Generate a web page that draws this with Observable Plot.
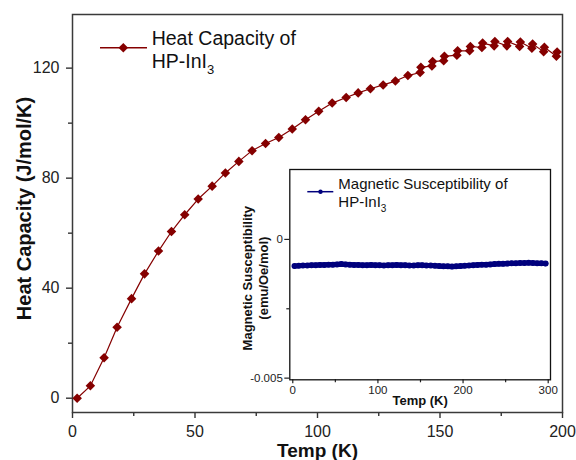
<!DOCTYPE html>
<html><head><meta charset="utf-8">
<script src="https://cdn.jsdelivr.net/npm/d3@7"></script>
<script src="https://cdn.jsdelivr.net/npm/@observablehq/plot@0.6"></script>
<style>
body{margin:0;background:#fff}
#wrap{position:relative;width:576px;height:460px;overflow:hidden}
</style></head><body><div id="wrap"></div>
<script>
// Heat capacity of HP-InI3 (main chart)
const hcT = [1.9, 7.3, 12.9, 18.2, 24.1, 29.4, 35.1, 40.4, 45.8, 51.3, 57.0, 62.4, 67.9, 73.3, 78.8, 84.2, 89.7, 95.1, 100.5, 106.0, 111.7, 116.6, 121.6, 126.8, 131.8, 136.9,
  141.9, 142.2, 146.7, 147.0, 151.5, 151.8, 156.9, 157.2, 162.1, 162.4, 167.1, 167.4, 172.1, 172.4, 177.3, 177.6, 182.5, 182.8, 187.5, 187.8, 192.3, 192.6, 197.5, 197.8];
const hcV = [0, 4.5, 14.7, 25.8, 36.2, 45.2, 53.5, 60.6, 66.7, 72.4, 77.1, 81.9, 86.1, 90.0, 92.6, 94.8, 97.9, 101.2, 104.3, 107.3, 109.3, 111.0, 112.5, 113.9, 115.3, 117.3,
  118.4, 120.3, 120.8, 122.4, 122.7, 124.3, 124.7, 126.3, 126.3, 127.9, 127.5, 129.1, 128.1, 129.7, 128.1, 129.7, 127.9, 129.5, 127.2, 128.8, 126.0, 127.6, 124.3, 125.9];
const hcXMajor = [0, 50, 100, 150, 200];
const hcXMinor = [25, 75, 125, 175];
const hcYMajor = [0, 40, 80, 120];
const hcYMinor = [20, 60, 100];

// Magnetic susceptibility of HP-InI3 (inset)
const msT = [2,7,12,17,22,27,32,37,42,47,52,57,62,67,72,77,82,87,92,97,102,107,112,117,122,127,132,137,142,147,152,157,162,167,172,177,182,187,192,197,202,207,212,217,222,227,232,237,242,247,252,257,262,267,272,277,282,287,292,297];
const msV = [-0.00096,-0.00095,-0.00094,-0.00094,-0.00093,-0.00093,-0.00092,-0.00092,-0.00091,-0.00091,-0.00090,-0.00089,-0.00090,-0.00091,-0.00092,-0.00092,-0.00093,-0.00093,-0.00092,-0.00093,-0.00093,-0.00094,-0.00093,-0.00093,-0.00092,-0.00093,-0.00093,-0.00094,-0.00094,-0.00093,-0.00093,-0.00094,-0.00094,-0.00095,-0.00096,-0.00097,-0.00097,-0.00098,-0.00097,-0.00096,-0.00095,-0.00094,-0.00093,-0.00092,-0.00091,-0.00091,-0.00090,-0.00089,-0.00088,-0.00088,-0.00087,-0.00086,-0.00086,-0.00085,-0.00085,-0.00084,-0.00085,-0.00086,-0.00086,-0.00087];
const msXMajor = [0, 100, 200, 300];
const msXMinor = [50, 150, 250];
const msYMajor = [0, -0.005];
const msYMinor = [-0.0025];

const FONT = '"Liberation Sans", Arial, Helvetica, sans-serif';
const RED = "#850000";
const NAVY = "#00007d";
const INK = "#111";

const hc = hcT.map((t, i) => ({t, v: hcV[i]}));
const ms = msT.map((t, i) => ({t, v: msV[i]}));

const main = Plot.plot({
  width: 576, height: 460,
  marginLeft: 72, marginRight: 14, marginTop: 14, marginBottom: 48,
  style: {fontFamily: FONT, background: "white", color: INK, overflow: "visible"},
  x: {domain: [0, 200], label: null},
  y: {domain: [-5.2, 139.5], label: null},
  marks: [
    Plot.axisX({ticks: hcXMinor, tickSize: 4, tickFormat: () => "", stroke: "#333", strokeWidth: 1.4, label: null}),
    Plot.axisX({ticks: hcXMajor, tickSize: 6, tickPadding: 7, fontSize: 16, stroke: "#333", strokeWidth: 1.4, fill: "#222", label: null}),
    Plot.axisY({ticks: hcYMinor, tickSize: 4, tickFormat: () => "", stroke: "#333", strokeWidth: 1.4, label: null}),
    Plot.axisY({ticks: hcYMajor, tickSize: 6, tickPadding: 7, fontSize: 16, stroke: "#333", strokeWidth: 1.4, fill: "#222", label: null}),
    Plot.frame({stroke: "#3a3a3a", strokeWidth: 1.5}),
    Plot.text(["Temp (K)"], {frameAnchor: "bottom", textAnchor: "middle", lineAnchor: "middle", dy: 38.5, fontSize: 19, fontWeight: "bold", fill: INK}),
    Plot.text(["Heat Capacity (J/mol/K)"], {frameAnchor: "left", textAnchor: "middle", lineAnchor: "middle", rotate: -90, dx: -48, dy: -5, fontSize: 20, fontWeight: "bold", fill: INK}),
    Plot.line(hc, {x: "t", y: "v", stroke: RED, strokeWidth: 1.2}),
    Plot.dot(hc, {x: "t", y: "v", symbol: "diamond2", r: 4.3, fill: RED})
  ]
});
main.style.position = "absolute"; main.style.left = "0px"; main.style.top = "0px";
document.getElementById("wrap").appendChild(main);

const inset = Plot.plot({
  width: 330, height: 250,
  marginLeft: 59.3, marginRight: 10, marginTop: 9, marginBottom: 30.7,
  style: {fontFamily: FONT, background: "transparent", color: INK, overflow: "visible"},
  x: {domain: [-3.5, 302.7], label: null},
  y: {domain: [-0.00506, 0.00252], label: null},
  marks: [
    Plot.frame({fill: "white"}),
    Plot.axisX({ticks: msXMinor, tickSize: 3, tickFormat: () => "", stroke: "#222", strokeWidth: 1.2, label: null}),
    Plot.axisX({ticks: msXMajor, tickSize: 4, tickPadding: 2, fontSize: 11.5, stroke: "#222", strokeWidth: 1.2, fill: "#222", label: null}),
    Plot.axisY({ticks: msYMinor, tickSize: 3, tickFormat: () => "", stroke: "#222", strokeWidth: 1.2, label: null}),
    Plot.axisY({ticks: msYMajor, tickSize: 5, tickPadding: 2, fontSize: 11.5, tickFormat: d => String(d), stroke: "#222", strokeWidth: 1.2, fill: "#222", label: null}),
    Plot.frame({stroke: "#111", strokeWidth: 1.3}),
    Plot.text(["Temp (K)"], {frameAnchor: "bottom", textAnchor: "middle", lineAnchor: "middle", dy: 21.5, fontSize: 13, fontWeight: "bold", fill: INK}),
    Plot.text(["Magnetic Susceptibility"], {frameAnchor: "left", textAnchor: "middle", lineAnchor: "middle", rotate: -90, dx: -42.3, dy: 3.5, fontSize: 13, fontWeight: "bold", fill: INK}),
    Plot.text(["(emu/Oe/mol)"], {frameAnchor: "left", textAnchor: "middle", lineAnchor: "middle", rotate: -90, dx: -26, dy: 3.5, fontSize: 13, fontWeight: "bold", fill: INK}),
    Plot.line(ms, {x: "t", y: "v", stroke: NAVY, strokeWidth: 5.2, strokeLinecap: "round"}),
    Plot.dot(ms, {x: "t", y: "v", r: 3, fill: NAVY})
  ]
});
inset.style.position = "absolute"; inset.style.left = "230px"; inset.style.top = "160px";
document.getElementById("wrap").appendChild(inset);

// Legends (overlay)
const ov = d3.select("#wrap").append("svg")
  .attr("width", 576).attr("height", 460)
  .style("position", "absolute").style("left", "0px").style("top", "0px")
  .style("font-family", FONT).style("pointer-events", "none");

ov.append("line").attr("x1", 100).attr("x2", 147).attr("y1", 47.7).attr("y2", 47.7)
  .attr("stroke", RED).attr("stroke-width", 1.4);
ov.append("path").attr("d", d3.symbol(d3.symbolDiamond2, Math.PI * 4.3 * 4.3)())
  .attr("transform", "translate(123.3,47.7)").attr("fill", RED);
ov.append("text").attr("x", 151.7).attr("y", 45).attr("font-size", 19.5).attr("fill", INK).text("Heat Capacity of");
const l2 = ov.append("text").attr("x", 151.7).attr("y", 68.3).attr("font-size", 19.5).attr("fill", INK);
l2.append("tspan").text("HP-InI");
l2.append("tspan").attr("font-size", 13).attr("dy", 6).text("3");

ov.append("line").attr("x1", 307.3).attr("x2", 333.3).attr("y1", 191.7).attr("y2", 191.7)
  .attr("stroke", NAVY).attr("stroke-width", 1.5);
ov.append("circle").attr("cx", 320.5).attr("cy", 191.7).attr("r", 2.2).attr("fill", NAVY);
ov.append("text").attr("x", 338.3).attr("y", 189.3).attr("font-size", 15).attr("fill", INK).text("Magnetic Susceptibility of");
const m2 = ov.append("text").attr("x", 338.3).attr("y", 207.3).attr("font-size", 15).attr("fill", INK);
m2.append("tspan").text("HP-InI");
m2.append("tspan").attr("font-size", 10).attr("dy", 4.5).text("3");
</script></body></html>
